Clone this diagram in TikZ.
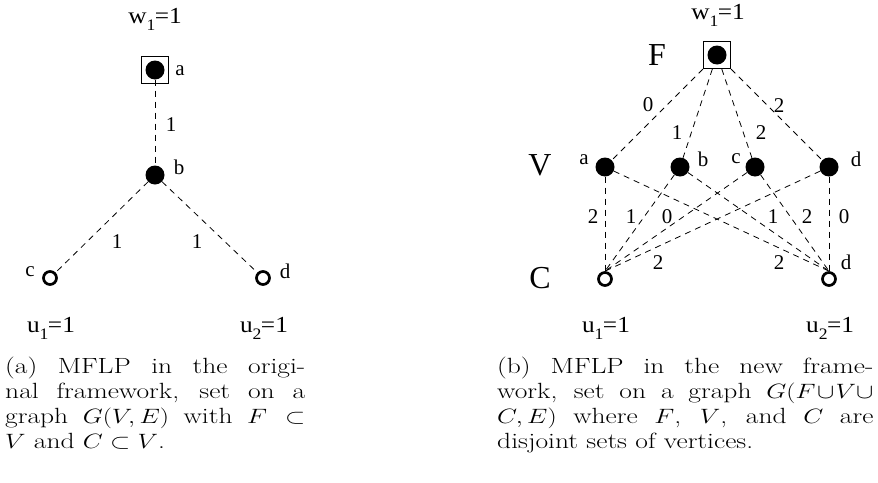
\documentclass[tikz,border=0pt]{standalone}
\usepackage{fontspec}
\newfontfamily\tms{Liberation Serif}
\newcommand{\subl}[1]{\raisebox{-7pt}{\fontsize{16}{16}\selectfont #1}\kern-0.5pt}
\newcommand{\capline}[2]{\scalebox{1.25}[1]{\makebox[#1][s]{#2}}}
\begin{document}
\begin{tikzpicture}[x=1pt,y=-1pt,
  fv/.style={circle, fill, inner sep=0pt, minimum size=19pt},
  cv/.style={circle, draw, line width=2.7pt, inner sep=0pt, minimum size=13pt},
  fbx/.style={draw, line width=1.1pt, inner sep=0pt, minimum size=27pt},
  edg/.style={dash pattern=on 6pt off 5pt, line width=0.8pt},
  lbl/.style={font=\tms\fontsize{21}{21}\selectfont, inner sep=0pt},
  wl/.style={font=\tms\fontsize{23}{23}\selectfont, inner sep=0pt},
  big/.style={font=\tms\fontsize{32}{32}\selectfont, inner sep=0pt},
  captxt/.style={font=\fontsize{22}{25}\selectfont, inner sep=0pt, anchor=base west}]
\useasboundingbox (0,0) rectangle (878,482);
% ---------- left diagram ----------
\node[fv] (la) at (155,70) {};
\node[fbx] (lab) at (155,70) {};
\node[fv] (lb) at (155,175) {};
\node[cv] (lc) at (50,278) {};
\node[cv] (ld) at (263,278) {};
\draw[edg] (la) -- (lb);
\draw[edg] (lb) -- (lc);
\draw[edg] (lb) -- (ld);
\node[lbl] (l1) at (171,125) {1};
\node[lbl] (l2) at (117,242) {1};
\node[lbl] (l3) at (197,242) {1};
\node[wl] (lw) at (155,19) {\scalebox{1.1}[1]{w\subl{1}=1}};
\node[lbl] (lna) at (180,71) {a};
\node[lbl] (lnb) at (179,167) {b};
\node[lbl] (lnc) at (30,272) {c};
\node[lbl] (lnd) at (285,271) {d};
\node[wl] (lu1) at (51,328) {\scalebox{1.1}[1]{u\subl{1}=1}};
\node[wl] (lu2) at (264,328) {\scalebox{1.1}[1]{u\subl{2}=1}};
% ---------- right diagram ----------
\node[fv] (rf) at (717,55) {};
\node[fbx] (rfb) at (717,55) {};
\node[fv] (ra) at (605,167) {};
\node[fv] (rb) at (680,167) {};
\node[fv] (rc) at (755,167) {};
\node[fv] (rd) at (829,167) {};
\node[cv] (rc1) at (605,279) {};
\node[cv] (rc2) at (829,279) {};
\foreach \v in {ra,rb,rc,rd} \draw[edg] (rfb) -- (\v);
\foreach \v in {ra,rb,rc,rd} \draw[edg] (\v) -- (rc1.north);
\foreach \v in {ra,rb,rc,rd} \draw[edg] (\v) -- (rc2.north);
\node[wl] (rw) at (718,15) {\scalebox{1.1}[1]{w\subl{1}=1}};
\node[big] (rF) at (657,55) {F};
\node[big] (rV) at (540,165) {V};
\node[big] (rC) at (540,278) {C};
\node[lbl] (rna) at (584,160) {a};
\node[lbl] (rnb) at (703,159) {b};
\node[lbl] (rnc) at (736,159) {c};
\node[lbl] (rnd) at (856,159) {d};
\node[lbl] (rnd2) at (846,262) {d};
\node[lbl] (e1) at (648,105) {0};
\node[lbl] (e2) at (677,133) {1};
\node[lbl] (e3) at (761,133) {2};
\node[lbl] (e4) at (779,106) {2};
\node[lbl] (e5) at (593,217) {2};
\node[lbl] (e6) at (631,217) {1};
\node[lbl] (e7) at (667,217) {0};
\node[lbl] (e8) at (658,263) {2};
\node[lbl] (e9) at (779,263) {2};
\node[lbl] (e10) at (773,217) {1};
\node[lbl] (e11) at (807,217) {2};
\node[lbl] (e12) at (844,217) {0};
\node[wl] (ru1) at (606,328) {\scalebox{1.1}[1]{u\subl{1}=1}};
\node[wl] (ru2) at (830,328) {\scalebox{1.1}[1]{u\subl{2}=1}};
% ---------- captions ----------
\node[captxt] (ca1) at (5,373) {\capline{240pt}{(a) MFLP in the origi-}};
\node[captxt] (ca2) at (5,398) {\capline{240pt}{nal framework, set on a}};
\node[captxt] (ca3) at (5,423) {\capline{240pt}{graph $G(V,E)$ with $F\subset$}};
\node[captxt] (ca4) at (5,448) {\scalebox{1.25}[1]{$V$ and $C\subset V$.}};
\node[captxt] (cb1) at (497,373) {\capline{301pt}{(b) MFLP in the new frame-}};
\node[captxt] (cb2) at (497,398) {\capline{301pt}{\medmuskip=1mu work, set on a graph $G(F\cup V\cup$}};
\node[captxt] (cb3) at (497,423) {\capline{301pt}{$C,E)$ where $F$, $V$, and $C$ are}};
\node[captxt] (cb4) at (497,448) {\scalebox{1.25}[1]{disjoint sets of vertices.}};
\end{tikzpicture}
\end{document}
